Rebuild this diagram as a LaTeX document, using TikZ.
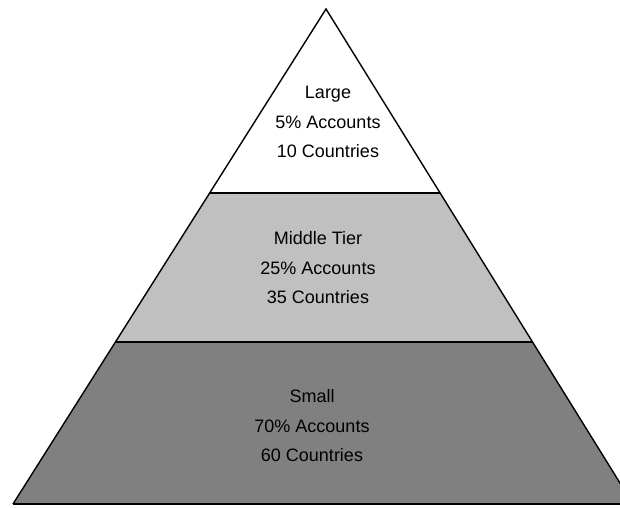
\documentclass[tikz,border=0pt]{standalone}
\usepackage{fontspec}
\setmainfont{Liberation Sans}
\usepackage{xcolor}
\usepackage{tikz}
\usetikzlibrary{calc}

\definecolor{midtier}{HTML}{C0C0C0}
\definecolor{smalltier}{HTML}{808080}

\begin{document}
\begin{tikzpicture}[x=1pt,y=-1pt,
        every node/.style={align=center,inner sep=0pt,
          font=\fontsize{18}{29.5}\selectfont}]
        \useasboundingbox (0,0) rectangle (620,507);
        \clip (0,0) rectangle (620,507);
        \coordinate (apex) at (326,9);
        \coordinate (bl) at (13,504);
        \coordinate (br) at (633,504);
        \coordinate (l1) at ($(apex)!0.3717!(bl)$);
        \coordinate (r1) at ($(apex)!0.3717!(br)$);
        \coordinate (l2) at ($(apex)!0.6727!(bl)$);
        \coordinate (r2) at ($(apex)!0.6727!(br)$);
        % tiers
        \fill[white] (apex) -- (l1) -- (r1) -- cycle;
        \fill[midtier] (l1) -- (l2) -- (r2) -- (r1) -- cycle;
        \fill[smalltier] (l2) -- (bl) -- (br) -- (r2) -- cycle;
        \draw[line width=1.4pt,line join=miter] (bl) -- (apex) -- (br);
        \draw[line width=2pt] (l1) -- (r1);
        \draw[line width=2pt] (l2) -- (r2);
        \draw[line width=1.2pt] (bl) -- (br);
        % labels
        \node (large) at (328,122) {Large\\5\% Accounts\\10 Countries};
        \node (middle) at (318,268) {Middle Tier\\25\% Accounts\\35 Countries};
        \node (small) at (312,426) {Small\\70\% Accounts\\60 Countries};
      \end{tikzpicture}
\end{document}
